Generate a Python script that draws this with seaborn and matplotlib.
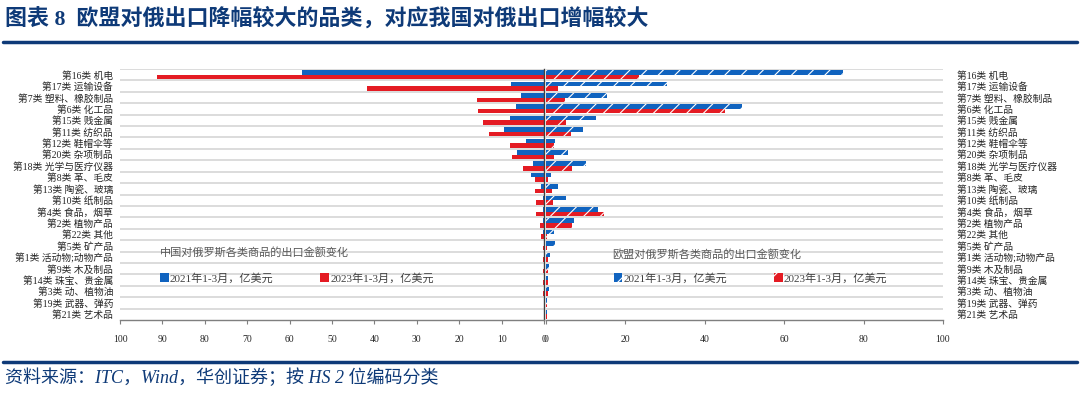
import matplotlib
matplotlib.use("Agg")
import matplotlib.pyplot as plt
from matplotlib.patches import Patch
import pandas as pd
import seaborn as sns

categories = [
    "第16类 机电", "第17类 运输设备", "第7类 塑料、橡胶制品", "第6类 化工品",
    "第15类 贱金属", "第11类 纺织品", "第12类 鞋帽伞等", "第20类 杂项制品",
    "第18类 光学与医疗仪器", "第8类 革、毛皮", "第13类 陶瓷、玻璃", "第10类 纸制品",
    "第4类 食品，烟草", "第2类 植物产品", "第22类 其他", "第5类 矿产品",
    "第1类 活动物;动物产品", "第9类 木及制品", "第14类 珠宝、贵金属", "第3类 动、植物油",
    "第19类 武器、弹药", "第21类 艺术品",
]
series = ["2021年1-3月，亿美元", "2023年1-3月，亿美元"]

# China exports to Russia (left panel)
cn_2021 = [57.0, 7.9, 5.5, 6.6, 8.0, 9.4, 4.2, 6.4, 2.7, 3.1, 0.6, 0.3,
           0.3, 0.2, 0.2, 0.1, 0.1, 0.1, 0.1, 0.1, 0.05, 0.05]
cn_2023 = [91.3, 41.7, 15.8, 15.6, 14.3, 12.9, 8.0, 7.6, 4.9, 2.1, 2.1, 1.9,
           1.8, 0.9, 0.6, 0.2, 0.2, 0.2, 0.2, 0.2, 0.1, 0.1]
# EU exports to Russia (right panel)
eu_2021 = [74.8, 30.6, 15.3, 49.4, 12.6, 9.2, 2.2, 5.5, 10.2, 1.2, 2.9, 5.0,
           13.2, 7.1, 2.0, 2.3, 1.0, 0.8, 0.6, 0.8, 0.3, 0.3]
eu_2023 = [23.3, 3.0, 4.8, 45.1, 5.0, 6.3, 2.0, 2.0, 6.5, 0.4, 1.4, 1.7,
           14.7, 6.6, 0.3, 0.3, 0.6, 0.4, 0.4, 0.6, 0.3, 0.3]

left_ticks = [100, 90, 80, 70, 60, 50, 40, 30, 20, 10, 0]
right_ticks = [0, 20, 40, 60, 80, 100]

BLUE = "#1063BF"
RED = "#E41B23"
NAVY = "#0E3A78"
GRID = "#D9D9D9"


def to_long(a, b):
    return pd.DataFrame({
        "category": categories * 2,
        "series": [series[0]] * len(categories) + [series[1]] * len(categories),
        "value": list(a) + list(b),
    })


sns.set_theme(style="white")
plt.rcParams["font.family"] = ["Liberation Serif", "Noto Sans CJK SC"]
plt.rcParams["hatch.linewidth"] = 0.8

fig = plt.figure(figsize=(10.8, 3.93), dpi=100)
axL = fig.add_axes([120 / 1080, 1 - 320 / 393, 424 / 1080, 251 / 393])
axR = fig.add_axes([546 / 1080, 1 - 320 / 393, 397 / 1080, 251 / 393])

sns.barplot(data=to_long(cn_2021, cn_2023), x="value", y="category", hue="series",
            orient="h", palette=[BLUE, RED], saturation=1, ax=axL, legend=False, width=0.8)
sns.barplot(data=to_long(eu_2021, eu_2023), x="value", y="category", hue="series",
            orient="h", palette=[BLUE, RED], saturation=1, ax=axR, legend=False, width=0.8)

for bar in axL.patches:
    bar.set_linewidth(0)
for bar in axR.patches:
    bar.set_hatch("//")
    bar.set_edgecolor("white")
    bar.set_linewidth(0)

n = len(categories)
for ax in (axL, axR):
    ax.set_ylim(n - 0.5, -0.5)
    for i in range(n):
        ax.axhline(i - 0.5, color=GRID, lw=1.3, zorder=0)
    ax.set_xlabel("")
    ax.set_ylabel("")
    for s in ("top", "left", "right"):
        ax.spines[s].set_visible(False)
    ax.spines["bottom"].set_color("#7F7F7F")
    ax.spines["bottom"].set_linewidth(1.0)
    ax.tick_params(axis="x", direction="out", length=3, width=0.8, color="#7F7F7F",
                   labelsize=7, pad=8, bottom=True)
    ax.tick_params(axis="y", length=0, labelsize=7)
    for t in ax.get_yticklabels():
        t.set_color("#262626")

axL.set_xlim(100, 0)
axL.set_xticks(left_ticks)
axL.set_xticklabels([str(t) for t in left_ticks])
axL.tick_params(axis="y", pad=5)
axL.spines["right"].set_visible(True)
axL.spines["right"].set_color("#404040")
axL.spines["right"].set_linewidth(1.0)

axR.set_xlim(0, 100)
axR.set_xticks(right_ticks)
axR.set_xticklabels([str(t) for t in right_ticks])
axR.yaxis.tick_right()
axR.tick_params(axis="y", pad=10, length=0)

# panel captions and legends
axL.text(0.094, 0.271, "中国对俄罗斯各类商品的出口金额变化", transform=axL.transAxes,
         fontsize=8, color="#595959", va="center", ha="left")
axR.text(0.166, 0.263, "欧盟对俄罗斯各类商品的出口金额变化", transform=axR.transAxes,
         fontsize=8, color="#595959", va="center", ha="left")

hL = [Patch(facecolor=BLUE, linewidth=0), Patch(facecolor=RED, linewidth=0)]
hR = [Patch(facecolor=BLUE, edgecolor="white", hatch="//", linewidth=0),
      Patch(facecolor=RED, edgecolor="white", hatch="//", linewidth=0)]
axL.legend(hL, series, ncol=2, frameon=False, loc="center left",
           bbox_to_anchor=(0.07, 0.167), fontsize=8, handlelength=0.8, handleheight=0.8,
           handletextpad=0.1, columnspacing=4.2, labelcolor="#404040")
axR.legend(hR, series, ncol=2, frameon=False, loc="center left",
           bbox_to_anchor=(0.145, 0.167), fontsize=8, handlelength=0.8, handleheight=0.8,
           handletextpad=0.1, columnspacing=4.2, labelcolor="#404040")

# title, rules, source
fig.text(5 / 1080, 1 - 18 / 393, "图表 8  欧盟对俄出口降幅较大的品类，对应我国对俄出口增幅较大",
         fontsize=15.8, fontweight="bold", color=NAVY, va="center", ha="left")
fig.add_artist(plt.Line2D([3 / 1080, 1077 / 1080], [1 - 42 / 393] * 2, color=NAVY, lw=2.5))
fig.add_artist(plt.Line2D([3 / 1080, 1077 / 1080], [1 - 362 / 393] * 2, color=NAVY, lw=2.5))
fig.text(5 / 1080, 1 - 378 / 393, "资料来源：ITC，Wind，华创证券；按 HS 2 位编码分类",
         fontsize=13, style="italic", color=NAVY, va="center", ha="left")

fig.savefig("out.png", dpi=100, facecolor="white")
